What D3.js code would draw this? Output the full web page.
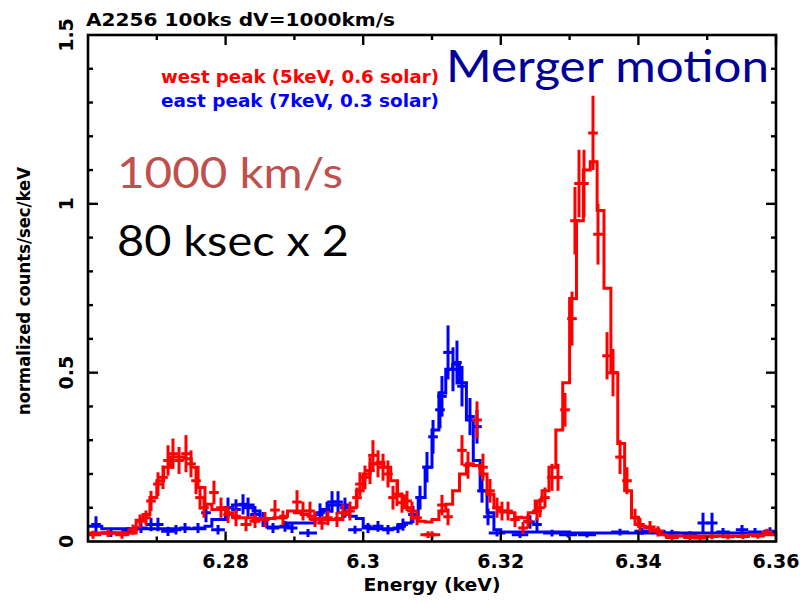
<!DOCTYPE html>
<html><head><meta charset="utf-8">
<script src="https://cdn.jsdelivr.net/npm/d3@7"></script>
<style>body{margin:0;background:#fff}svg{display:block}</style>
</head><body>
<svg id="c" width="800" height="603"></svg>
<script>
// ---- data ----
const xTicksMajor = [6.28, 6.30, 6.32, 6.34, 6.36];
const xTickLabels = ["6.28", "6.3", "6.32", "6.34", "6.36"];
const yTicksMajor = [0, 0.5, 1, 1.5];
const yTickLabels = ["0", "0.5", "1", "1.5"];
const modelStart = 6.26, modelBin = 0.001;
const redModel = [0.025,0.025,0.025,0.025,0.025,0.025,0.025,0.063,0.08,0.13,
  0.18,0.22,0.25,0.25,0.245,0.22,0.16,0.11,0.095,0.095,
  0.085,0.075,0.07,0.07,0.068,0.068,0.068,0.07,0.075,0.09,
  0.085,0.08,0.075,0.068,0.065,0.065,0.068,0.08,0.1,0.15,
  0.2,0.23,0.235,0.22,0.18,0.135,0.1,0.07,0.06,0.058,
  0.065,0.09,0.11,0.15,0.2,0.23,0.225,0.2,0.14,0.1,
  0.087,0.085,0.072,0.07,0.085,0.12,0.15,0.22,0.33,0.47,
  0.72,0.95,1.1,1.125,0.98,0.75,0.5,0.29,0.15,0.07,
  0.045,0.04,0.035,0.02,0.016,0.016,0.016,0.016,0.016,0.016,
  0.016,0.016,0.016,0.016,0.016,0.016,0.02,0.02,0.02,0.02];
const blueModel = [0.045,0.045,0.038,0.038,0.038,0.038,0.038,0.038,0.038,0.038,
  0.038,0.038,0.038,0.038,0.038,0.038,0.038,0.045,0.065,0.065,
  0.1,0.108,0.108,0.108,0.09,0.065,0.043,0.043,0.043,0.055,
  0.055,0.055,0.055,0.08,0.095,0.108,0.108,0.108,0.075,0.068,
  0.045,0.038,0.038,0.038,0.038,0.045,0.055,0.08,0.13,0.22,
  0.33,0.44,0.51,0.525,0.47,0.36,0.24,0.15,0.085,0.035,
  0.028,0.028,0.028,0.028,0.028,0.028,0.028,0.028,0.028,0.028,
  0.025,0.025,0.025,0.025,0.025,0.025,0.025,0.025,0.025,0.025,
  0.025,0.025,0.025,0.025,0.025,0.025,0.025,0.025,0.025,0.025,
  0.025,0.025,0.025,0.025,0.025,0.025,0.025,0.025,0.025,0.025];
// points: [energy, value, yErr, xHalfWidth]
const redPoints = [
  [6.26073,0.02,0.012,0.0012],[6.26291,0.025,0.012,0.0012],[6.26494,0.02,0.012,0.0010],
  [6.26654,0.035,0.015,0.0008],[6.26756,0.06,0.02,0.0007],[6.26843,0.07,0.022,0.0007],
  [6.26916,0.12,0.03,0.0007],[6.27017,0.17,0.035,0.0007],[6.27090,0.19,0.035,0.0007],
  [6.27163,0.24,0.045,0.0007],[6.27235,0.26,0.045,0.0007],[6.27323,0.24,0.04,0.0007],
  [6.27424,0.26,0.055,0.0007],[6.27497,0.23,0.04,0.0007],[6.27570,0.18,0.04,0.0007],
  [6.27628,0.13,0.035,0.0007],[6.27686,0.10,0.03,0.0007],[6.27831,0.145,0.035,0.0007],
  [6.27933,0.10,0.03,0.0007],[6.28035,0.08,0.025,0.0007],[6.28151,0.07,0.025,0.0007],
  [6.28297,0.05,0.02,0.0008],[6.28427,0.06,0.02,0.0008],[6.28573,0.065,0.022,0.0007],
  [6.28718,0.093,0.03,0.0007],[6.28834,0.07,0.022,0.0007],[6.29038,0.117,0.035,0.0007],
  [6.29125,0.09,0.028,0.0007],[6.29227,0.09,0.028,0.0007],[6.29299,0.065,0.022,0.0007],
  [6.29401,0.055,0.02,0.0007],[6.29488,0.07,0.022,0.0007],[6.29619,0.065,0.022,0.0007],
  [6.29706,0.085,0.025,0.0007],[6.29808,0.09,0.028,0.0007],[6.29910,0.13,0.03,0.0007],
  [6.29953,0.17,0.035,0.0007],[6.30026,0.19,0.035,0.0007],[6.30099,0.21,0.04,0.0007],
  [6.30142,0.255,0.045,0.0007],[6.30215,0.23,0.04,0.0007],[6.30288,0.22,0.04,0.0007],
  [6.30360,0.20,0.04,0.0007],[6.30433,0.13,0.035,0.0007],[6.30491,0.14,0.035,0.0007],
  [6.30564,0.115,0.03,0.0007],[6.30637,0.12,0.03,0.0007],[6.30709,0.09,0.028,0.0007],
  [6.30782,0.07,0.022,0.0007],[6.30942,0.02,0.01,0.0011],[6.31000,0.02,0.01,0.0012],
  [6.31145,0.108,0.03,0.0007],[6.31233,0.073,0.025,0.0007],[6.31436,0.27,0.045,0.0007],
  [6.31523,0.226,0.04,0.0007],[6.31654,0.36,0.055,0.0007],[6.31741,0.22,0.04,0.0007],
  [6.31843,0.15,0.035,0.0007],[6.31945,0.10,0.03,0.0007],[6.32017,0.09,0.028,0.0007],
  [6.32105,0.09,0.028,0.0007],[6.32206,0.065,0.022,0.0007],[6.32323,0.04,0.018,0.0007],
  [6.32395,0.06,0.02,0.0007],[6.32526,0.09,0.028,0.0007],[6.32570,0.10,0.028,0.0007],
  [6.32642,0.13,0.03,0.0007],[6.32744,0.19,0.04,0.0007],[6.32831,0.19,0.04,0.0007],
  [6.32933,0.39,0.05,0.0007],[6.33035,0.66,0.08,0.0007],[6.33078,0.95,0.1,0.0007],
  [6.33137,1.06,0.1,0.0007],[6.33209,1.06,0.1,0.0007],[6.33340,1.21,0.11,0.0007],
  [6.33413,0.91,0.09,0.0007],[6.33544,0.55,0.07,0.0007],[6.33631,0.50,0.07,0.0007],
  [6.33733,0.25,0.05,0.0007],[6.33834,0.18,0.04,0.0007],[6.33951,0.072,0.025,0.0007],
  [6.34023,0.05,0.02,0.0007],[6.34169,0.043,0.018,0.0008],[6.34285,0.03,0.015,0.0008],
  [6.34488,0.012,0.008,0.0010],[6.34750,0.012,0.008,0.0010],[6.34895,0.01,0.008,0.0010],
  [6.35070,0.015,0.008,0.0010],[6.35302,0.014,0.008,0.0010],[6.35520,0.015,0.008,0.0010],
  [6.35738,0.016,0.008,0.0010],[6.35869,0.028,0.01,0.0008]
];
const bluePoints = [
  [6.26116,0.05,0.025,0.0007],[6.26334,0.025,0.012,0.0013],[6.26581,0.03,0.012,0.0010],
  [6.26770,0.04,0.015,0.0010],[6.26916,0.05,0.02,0.0008],[6.27017,0.05,0.02,0.0008],
  [6.27163,0.03,0.014,0.0010],[6.27279,0.035,0.014,0.0008],[6.27410,0.04,0.015,0.0008],
  [6.27599,0.04,0.015,0.0008],[6.27715,0.085,0.028,0.0007],[6.27890,0.035,0.014,0.0010],
  [6.28035,0.10,0.03,0.0007],[6.28151,0.095,0.03,0.0007],[6.28253,0.11,0.03,0.0007],
  [6.28326,0.10,0.03,0.0007],[6.28427,0.08,0.025,0.0007],[6.28544,0.065,0.022,0.0007],
  [6.28689,0.04,0.015,0.0009],[6.28863,0.045,0.016,0.0008],[6.28965,0.04,0.015,0.0008],
  [6.29198,0.025,0.012,0.0013],[6.29372,0.085,0.028,0.0007],[6.29474,0.09,0.028,0.0007],
  [6.29547,0.117,0.032,0.0007],[6.29634,0.117,0.032,0.0007],[6.29735,0.10,0.03,0.0007],
  [6.29881,0.035,0.012,0.0010],[6.30070,0.04,0.015,0.0009],[6.30215,0.045,0.016,0.0008],
  [6.30360,0.035,0.014,0.0009],[6.30506,0.04,0.015,0.0008],[6.30578,0.05,0.018,0.0007],
  [6.30724,0.08,0.025,0.0007],[6.30826,0.13,0.035,0.0007],[6.30927,0.22,0.045,0.0007],
  [6.31015,0.31,0.05,0.0007],[6.31116,0.39,0.055,0.0007],[6.31145,0.43,0.06,0.0007],
  [6.31233,0.56,0.08,0.0007],[6.31305,0.51,0.065,0.0007],[6.31363,0.53,0.065,0.0007],
  [6.31436,0.46,0.06,0.0007],[6.31552,0.37,0.055,0.0007],[6.31654,0.34,0.05,0.0007],
  [6.31727,0.15,0.035,0.0007],[6.31814,0.073,0.025,0.0007],[6.31945,0.025,0.01,0.0012],
  [6.32279,0.02,0.01,0.0012],[6.32424,0.058,0.02,0.0007],[6.32526,0.05,0.02,0.0007],
  [6.32744,0.025,0.01,0.0013],[6.32977,0.02,0.008,0.0013],[6.33253,0.02,0.008,0.0013],
  [6.33733,0.028,0.01,0.0013],[6.34052,0.03,0.01,0.0011],[6.34285,0.03,0.01,0.0011],
  [6.34488,0.025,0.01,0.0011],[6.34750,0.02,0.01,0.0011],[6.34939,0.055,0.03,0.0008],
  [6.35070,0.055,0.03,0.0008],[6.35230,0.028,0.012,0.0010],[6.35506,0.035,0.014,0.0009],
  [6.35695,0.028,0.012,0.0010],[6.35913,0.03,0.012,0.0010]
];

// ---- chart ----
const svg = d3.select("#c");
svg.append("rect").attr("width",800).attr("height",603).attr("fill","#fff");
const L=88, R=776, T=35, B=541.5;
const x = d3.scaleLinear().domain([6.26, 6.36]).range([L, R]);
const y = d3.scaleLinear().domain([0, 1.5]).range([B, T]);

const clipId = "clp";
svg.append("clipPath").attr("id",clipId).append("rect").attr("x",L).attr("y",T).attr("width",R-L).attr("height",B-T);
const plot = svg.append("g").attr("clip-path",`url(#${clipId})`);

function stepPoints(vals){
  const pts=[];
  vals.forEach((v,i)=>{ pts.push([modelStart+i*modelBin, v]); });
  pts.push([modelStart+vals.length*modelBin, vals[vals.length-1]]);
  return pts;
}
const stepLine = d3.line().x(d=>x(d[0])).y(d=>y(d[1])).curve(d3.curveStepAfter);

function drawSeries(points, model, color){
  plot.append("path").datum(stepPoints(model)).attr("d",stepLine)
    .attr("fill","none").attr("stroke",color).attr("stroke-width",3).attr("stroke-linejoin","miter");
  const g = plot.append("g").attr("stroke",color).attr("stroke-width",3);
  g.selectAll("line.h").data(points).join("line").attr("class","h")
    .attr("x1",d=>x(d[0]-d[3])).attr("x2",d=>x(d[0]+d[3]))
    .attr("y1",d=>y(d[1])).attr("y2",d=>y(d[1]));
  g.selectAll("line.v").data(points).join("line").attr("class","v")
    .attr("x1",d=>x(d[0])).attr("x2",d=>x(d[0]))
    .attr("y1",d=>y(d[1]-d[2])).attr("y2",d=>y(d[1]+d[2]));
}
drawSeries(bluePoints, blueModel, "#0000ff");
drawSeries(redPoints, redModel, "#ff0000");

// axes with inside ticks
const ax = svg.append("g").attr("stroke","#000");
const xMinor = d3.range(6.27, 6.3601, 0.01);
const yMinor = d3.range(0.1, 1.5, 0.1);
function isMajorX(v){ return xTicksMajor.some(t=>Math.abs(t-v)<1e-6); }
function isMajorY(v){ return yTicksMajor.some(t=>Math.abs(t-v)<1e-6); }
xMinor.forEach(v=>{
  const len = isMajorX(v)?10:5;
  ax.append("line").attr("x1",x(v)).attr("x2",x(v)).attr("y1",B).attr("y2",B-len).attr("stroke-width",2.4);
  ax.append("line").attr("x1",x(v)).attr("x2",x(v)).attr("y1",T).attr("y2",T+len).attr("stroke-width",2.4);
});
yMinor.forEach(v=>{
  const len = isMajorY(Math.round(v*10)/10)?10:5;
  ax.append("line").attr("y1",y(v)).attr("y2",y(v)).attr("x1",L).attr("x2",L+len).attr("stroke-width",2.4);
  ax.append("line").attr("y1",y(v)).attr("y2",y(v)).attr("x1",R).attr("x2",R-len).attr("stroke-width",2.4);
});
svg.append("rect").attr("x",L).attr("y",T).attr("width",R-L).attr("height",B-T)
  .attr("fill","none").attr("stroke","#000").attr("stroke-width",2.6);

const pgFont = "'DejaVu Sans', 'Liberation Sans', sans-serif";
// x tick labels
svg.append("g").selectAll("text").data(xTicksMajor).join("text")
  .attr("x",d=>x(d)).attr("y",568).attr("text-anchor","middle")
  .attr("font-family",pgFont).attr("font-weight","bold").attr("font-size",19)
  .text((d,i)=>xTickLabels[i]);
// y tick labels (rotated)
svg.append("g").selectAll("text").data(yTicksMajor).join("text")
  .attr("transform",d=>`translate(73,${y(d)}) rotate(-90)`).attr("text-anchor","middle")
  .attr("font-family",pgFont).attr("font-weight","bold").attr("font-size",19)
  .text((d,i)=>yTickLabels[i]);
// axis titles
svg.append("text").attr("x",432).attr("y",591).attr("text-anchor","middle")
  .attr("font-family",pgFont).attr("font-weight","bold").attr("font-size",18)
  .attr("textLength",137).attr("lengthAdjust","spacingAndGlyphs")
  .text("Energy (keV)");
svg.append("text").attr("transform","translate(30,291) rotate(-90)").attr("text-anchor","middle")
  .attr("font-family",pgFont).attr("font-weight","bold").attr("font-size",17)
  .attr("textLength",248).attr("lengthAdjust","spacingAndGlyphs")
  .text("normalized counts/sec/keV");
// title
svg.append("text").attr("x",86).attr("y",26)
  .attr("font-family",pgFont).attr("font-weight","bold").attr("font-size",18)
  .attr("textLength",309).attr("lengthAdjust","spacingAndGlyphs")
  .text("A2256  100ks  dV=1000km/s");
// legend texts
svg.append("text").attr("x",161).attr("y",83).attr("fill","#ff0000")
  .attr("font-family",pgFont).attr("font-weight","bold").attr("font-size",17)
  .attr("textLength",278).attr("lengthAdjust","spacingAndGlyphs")
  .text("west peak (5keV, 0.6 solar)");
svg.append("text").attr("x",161).attr("y",107).attr("fill","#0000ff")
  .attr("font-family",pgFont).attr("font-weight","bold").attr("font-size",17)
  .attr("textLength",278).attr("lengthAdjust","spacingAndGlyphs")
  .text("east peak (7keV, 0.3 solar)");
// annotations
const calFont = "Lato, 'Open Sans', sans-serif";
svg.append("text").attr("x",446).attr("y",82).attr("fill","#000099")
  .attr("font-family",calFont).attr("font-size",44)
  .attr("textLength",323).attr("lengthAdjust","spacingAndGlyphs")
  .text("Merger motion");
svg.append("text").attr("x",117).attr("y",188).attr("fill","#c0504d")
  .attr("font-family",calFont).attr("font-size",42)
  .attr("textLength",226).attr("lengthAdjust","spacingAndGlyphs")
  .text("1000 km/s");
svg.append("text").attr("x",117).attr("y",256).attr("fill","#000")
  .attr("font-family",calFont).attr("font-size",42)
  .attr("textLength",232).attr("lengthAdjust","spacingAndGlyphs")
  .text("80 ksec x 2");
</script>
</body></html>
